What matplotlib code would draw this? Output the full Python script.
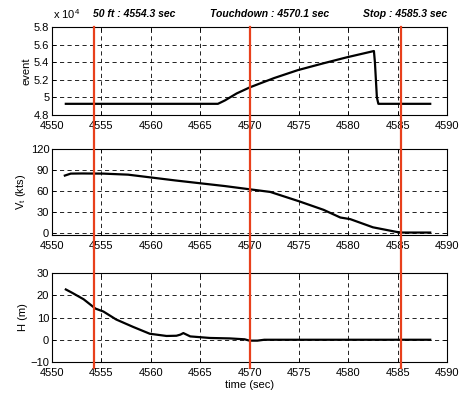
import numpy as np
import matplotlib
matplotlib.use("Agg")
from matplotlib import pyplot as plt
from matplotlib import transforms
from matplotlib.lines import Line2D

plt.rcParams["font.family"] = ["Liberation Sans", "DejaVu Sans"]
plt.rcParams["font.size"] = 8

# event signal
event_t = [4551.4, 4566.8, 4567.5, 4568.7, 4570.05, 4572.5, 4574.9, 4577.4,
           4579.8, 4582.6, 4582.7, 4582.9, 4583.05, 4588.3]
event_v = [49270, 49270, 49650, 50450, 51150, 52200, 53100, 53850,
           54540, 55270, 54000, 50000, 49270, 49270]

# true airspeed (kts)
vt_t = [4551.3, 4551.9, 4553.0, 4555.2, 4557.7, 4559.9, 4562.5, 4565.0, 4567.5,
        4570.0, 4572.1, 4575.0, 4577.5, 4579.2, 4580.2, 4582.5, 4584.9, 4585.5,
        4588.3]
vt_v = [82.0, 84.8, 85.0, 84.8, 83.3, 79.5, 75.0, 71.0, 67.0,
        62.4, 58.6, 45.3, 33.0, 22.0, 19.7, 8.0, 1.4, 0.5,
        0.5]

# height (m)
h_t = [4551.4, 4552.0, 4553.2, 4554.4, 4555.2, 4556.5, 4558.2, 4559.9, 4561.6,
       4562.6, 4563.0, 4563.3, 4564.0, 4566.0, 4568.0, 4569.5, 4570.0, 4570.8,
       4571.5, 4588.3]
h_v = [22.6, 21.2, 18.2, 14.0, 12.7, 9.1, 5.8, 2.7, 1.7,
       1.8, 2.3, 3.0, 1.5, 0.8, 0.6, 0.2, -0.4, -0.4,
       0.0, 0.0]

events = [4554.3, 4570.1, 4585.3]
event_labels = ["50 ft : 4554.3 sec", "Touchdown : 4570.1 sec", "Stop : 4585.3 sec"]

xticks = np.arange(4550, 4591, 5)

W, H = 462, 396
fig = plt.figure(figsize=(W / 100, H / 100), dpi=100)

left = 52 / W
width = (447 - 52) / W
boxes = [(27, 115), (149, 235), (273, 362)]
axes = []
for top, bot in boxes:
    ax = fig.add_axes([left, 1 - bot / H, width, (bot - top) / H])
    axes.append(ax)

specs = [
    (event_t, event_v, (48000, 58000), np.arange(48000, 58001, 2000), "event"),
    (vt_t, vt_v, (-3, 120), [0, 30, 60, 90, 120], "V$_\\mathregular{t}$ (kts)"),
    (h_t, h_v, (-10, 30), [-10, 0, 10, 20, 30], "H (m)"),
]

for ax, (t, v, ylim, yt, lab) in zip(axes, specs):
    ax.plot(t, v, color="black", lw=1.6)
    ax.set_xlim(4550, 4590)
    ax.set_ylim(*ylim)
    ax.set_xticks(xticks)
    ax.set_yticks(yt)
    ax.grid(True, color="black", linestyle=(0, (5, 4)), lw=0.6)
    ax.tick_params(direction="in", top=True, right=True, length=3, width=0.6)
    ax.tick_params(axis="x", pad=4)
    ax.tick_params(axis="y", pad=2)
    ax.set_ylabel(lab, labelpad=2)
    for s in ax.spines.values():
        s.set_linewidth(0.8)

axes[0].set_yticklabels([f"{y / 1e4:g}" for y in np.arange(48000, 58001, 2000)])
axes[2].set_xlabel("time (sec)", labelpad=2)

# "x 10^4" exponent marker
fig.text(53 / W, 1 - 14 / H, "x 10$^\\mathregular{4}$", ha="left", va="center", fontsize=8)

# event markers spanning all panels
for x in events:
    tr = transforms.blended_transform_factory(axes[0].transData, fig.transFigure)
    fig.add_artist(Line2D([x, x], [1 - 27 / H, 1 - 368 / H], transform=tr,
                          color="#e8401c", lw=1.6, zorder=10))

fig.text(134 / W, 1 - 14 / H, event_labels[0], ha="center", va="center",
         fontsize=7.5, fontweight="bold", fontstyle="italic")
fig.text(270 / W, 1 - 14 / H, event_labels[1], ha="center", va="center",
         fontsize=7.5, fontweight="bold", fontstyle="italic")
fig.text(447 / W, 1 - 14 / H, event_labels[2], ha="right", va="center",
         fontsize=7.5, fontweight="bold", fontstyle="italic")

fig.savefig("out.png", dpi=100)
